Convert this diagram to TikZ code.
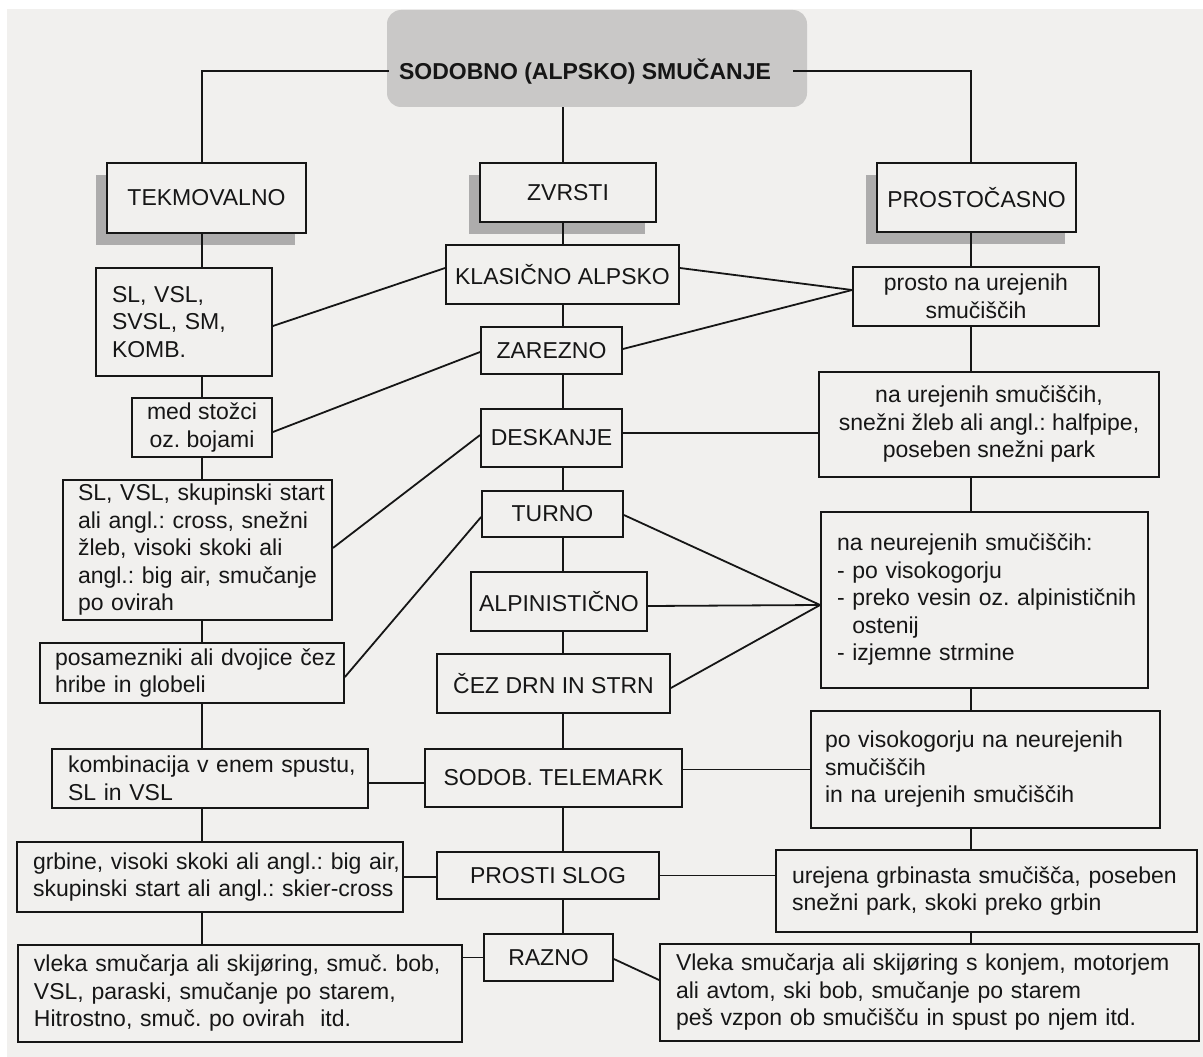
\documentclass[tikz,border=0pt]{standalone}
\usepackage{fontspec}
\setmainfont{Liberation Sans}
\usetikzlibrary{calc,shadows}
\definecolor{pagebg}{HTML}{F1F0EE}
\definecolor{ink}{HTML}{161616}
\definecolor{titlegray}{HTML}{C9C8C7}
\definecolor{shadowgray}{HTML}{ADACAC}
\newcommand{\diagfont}{\fontsize{23pt}{27.5pt}\selectfont}
\frenchspacing
\begin{document}
\begin{tikzpicture}[x=1pt,y=-1pt,
  bx/.style={draw=ink, line width=1.8pt, fill=pagebg, inner sep=0pt, font=\diagfont, align=center, text=ink},
  lbx/.style={bx, align=left},
  shd/.style={drop shadow={shadow xshift=-11pt, shadow yshift=-12pt, fill=shadowgray, opacity=1}},
  ln/.style={draw=ink, line width=1.8pt}]
\useasboundingbox (0,0) rectangle (1203,1057);
\fill[white] (0,0) rectangle (1203,1057);
\fill[pagebg] (7,9) rectangle (1203,1057);

\coordinate (L) at (202,0);
\coordinate (M) at (563,0);
\coordinate (R) at (971,0);

% title
\node[fill=titlegray, rounded corners=14pt, minimum width=420pt, minimum height=97pt, inner sep=0pt] (titlebox) at (597,58.5) {};
\node[font=\diagfont\bfseries, text=ink, inner xsep=10pt, inner ysep=0pt, text height=17pt, text depth=0pt] (title) at (585,71) {SODOBNO (ALPSKO) SMUČANJE};

% left column
\node[bx, shd, minimum width=199pt, minimum height=70pt] (tek) at (206.5,198) {TEKMOVALNO};
\node[lbx, text width=144pt, inner xsep=16pt, minimum height=108pt] (sl) at (184,322) {\mbox{SL, VSL,}\\\mbox{SVSL, SM,}\\\mbox{KOMB.}};
\node[bx, minimum width=140pt, minimum height=59pt] (med) at (202,427.5) {med stožci\\oz. bojami};
\node[lbx, text width=239pt, inner xsep=15pt, minimum height=140pt] (skup) at (197.5,550) {\mbox{SL, VSL, skupinski start}\\\mbox{ali angl.: cross, snežni}\\\mbox{žleb, visoki skoki ali}\\\mbox{angl.: big air, smučanje}\\\mbox{po ovirah}};
\node[lbx, text width=274pt, inner xsep=15pt, minimum height=60pt] (posa) at (192,673) {\mbox{posamezniki ali dvojice čez}\\\mbox{hribe in globeli}};
\node[lbx, text width=284pt, inner xsep=16pt, minimum height=59pt] (komb) at (210,778.5) {\mbox{kombinacija v enem spustu,}\\\mbox{SL in VSL}};
\node[lbx, text width=354pt, inner xsep=16pt, minimum height=70pt] (grb) at (210,877) {\mbox{grbine, visoki skoki ali angl.: big air,}\\\mbox{skupinski start ali angl.: skier-cross}};
\node[lbx, text width=412pt, inner xsep=16pt, minimum height=97pt] (vlk) at (240,993.5) {\mbox{vleka smučarja ali skijøring, smuč. bob,}\\\mbox{VSL, paraski, smučanje po starem,}\\\mbox{Hitrostno, smuč. po ovirah\ \ itd.}};

% middle column
\node[bx, shd, minimum width=176pt, minimum height=59pt] (zvr) at (568,192.5) {ZVRSTI};
\node[bx, minimum width=233pt, minimum height=59pt] (kla) at (562.5,274.5) {KLASIČNO ALPSKO};
\node[bx, minimum width=141pt, minimum height=47pt] (zar) at (551.5,350.5) {ZAREZNO};
\node[bx, minimum width=141pt, minimum height=58pt] (des) at (551.5,438) {DESKANJE};
\node[bx, minimum width=141pt, minimum height=46pt] (tur) at (552.5,514) {TURNO};
\node[bx, minimum width=176pt, minimum height=59pt] (alp) at (559,601.5) {ALPINISTIČNO};
\node[bx, minimum width=233pt, minimum height=59pt] (cez) at (553.5,683.5) {ČEZ DRN IN STRN};
\node[bx, minimum width=257pt, minimum height=58pt] (tel) at (553.5,778) {SODOB. TELEMARK};
\node[bx, minimum width=222pt, minimum height=47pt] (pro) at (548,875.5) {PROSTI SLOG};
\node[bx, minimum width=129pt, minimum height=47pt] (raz) at (548.5,957.5) {RAZNO};

% right column
\node[bx, shd, minimum width=199pt, minimum height=69pt] (psc) at (976.5,197.5) {PROSTOČASNO};
\node[bx, minimum width=246pt, minimum height=59pt] (pru) at (976,296.5) {prosto na urejenih\\smučiščih};
\node[bx, minimum width=340pt, minimum height=105pt] (nau) at (989,424.5) {na urejenih smučiščih,\\snežni žleb ali angl.: halfpipe,\\poseben snežni park};
\node[lbx, text width=295pt, inner xsep=16pt, minimum height=176pt] (neu) at (984.5,600) {\mbox{na neurejenih smučiščih:}\\\mbox{- po visokogorju}\\\mbox{- preko vesin oz. alpinističnih}\\\mbox{\phantom{- }ostenij}\\\mbox{- izjemne strmine}};
\node[lbx, text width=321pt, inner xsep=14pt, minimum height=117pt] (pov) at (985.5,769.5) {\mbox{po visokogorju na neurejenih}\\\mbox{smučiščih}\\\mbox{in na urejenih smučiščih}};
\node[lbx, text width=389pt, inner xsep=16pt, minimum height=82pt] (ure) at (986.5,891) {\mbox{urejena grbinasta smučišča, poseben}\\\mbox{snežni park, skoki preko grbin}};
\node[lbx, text width=507pt, inner xsep=16pt, minimum height=97pt] (vlr) at (929.5,992.5) {\mbox{Vleka smučarja ali skijøring s konjem, motorjem}\\\mbox{ali avtom, ski bob, smučanje po starem}\\\mbox{peš vzpon ob smučišču in spust po njem itd.}};

% trunk connectors
\draw[ln] (title.west) -| (tek.north -| L);
\draw[ln] ([xshift=12pt]title.east) -| (psc.north -| R);
\draw[ln] (titlebox.south -| M) -- (zvr.north -| M);
\foreach \a/\b in {tek/sl, sl/med, med/skup, skup/posa, posa/komb, komb/grb, grb/vlk}
  \draw[ln] (\a.south -| L) -- (\b.north -| L);
\foreach \a/\b in {zvr/kla, kla/zar, zar/des, des/tur, tur/alp, alp/cez, cez/tel, tel/pro, pro/raz}
  \draw[ln] (\a.south -| M) -- (\b.north -| M);
\foreach \a/\b in {psc/pru, pru/nau, nau/neu, neu/pov, pov/ure, ure/vlr}
  \draw[ln] (\a.south -| R) -- (\b.north -| R);

% cross connectors
\draw[ln] ($(sl.east)+(0,4)$) -- ($(kla.west)+(0,-6.5)$);
\draw[ln] ($(med.east)+(0,4.5)$) -- ($(zar.west)+(0,1.5)$);
\draw[ln] ($(skup.east)+(0,-2)$) -- ($(des.west)+(0,-3)$);
\draw[ln] ($(posa.east)+(0,4)$) -- ($(tur.west)+(0,3)$);
\draw[ln] ($(komb.east)+(0,4.5)$) -- ($(komb.east -| tel.west)+(0,4.5)$);
\draw[ln] (grb.east) -- (grb.east -| pro.west);
\draw[ln] (raz.west) -- (raz.west -| vlk.east);
\coordinate (pj) at ($(pru.west)+(0,-6.5)$);
\draw[ln] ($(kla.east)+(0,-6.5)$) -- (pj);
\draw[ln] ($(zar.east)+(0,-1.5)$) -- (pj);
\draw[ln] ($(des.east)+(0,-5)$) -- ($(des.east -| nau.west)+(0,-5)$);
\coordinate (nj) at ($(neu.west)+(0,5)$);
\draw[ln] ($(tur.east)+(0,1)$) -- (nj);
\draw[ln] ($(alp.east)+(0,4.5)$) -- (nj);
\draw[ln] ($(cez.east)+(0,4.5)$) -- (nj);
\draw[ln] (pov.west) -- (pov.west -| tel.east);
\draw[ln] (pro.east) -- (pro.east -| ure.west);
\draw[ln] ($(raz.east)+(0,1.5)$) -- ($(vlr.west)+(0,-12.5)$);
\end{tikzpicture}
\end{document}
